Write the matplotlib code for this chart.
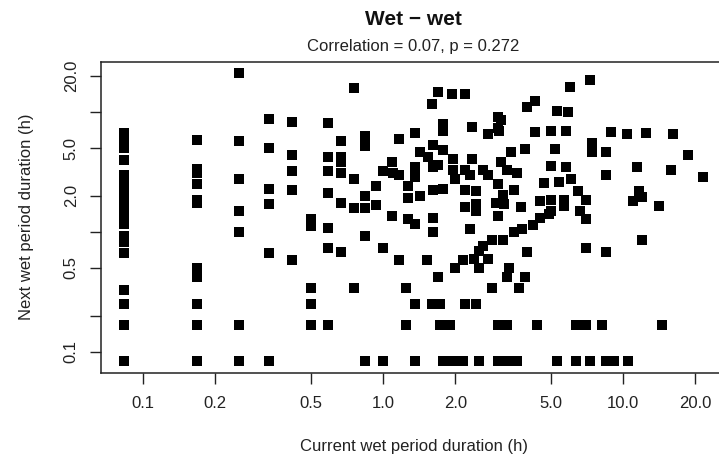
# wet period duration vs next wet period duration, log-log scatter

import matplotlib.pyplot as plt
from matplotlib.ticker import NullLocator

plt.rcParams['font.family'] = ['Liberation Sans', 'DejaVu Sans']

# current wet period duration (h), paired with next wet period duration (h)
cur_dur = [
    0.083, 0.083, 0.083, 0.083, 0.083, 0.083, 0.083, 0.083, 0.083, 0.083, 0.083,
    0.083, 0.083, 0.083, 0.083, 0.083, 0.083, 0.083, 0.083, 0.083, 0.083, 0.083,
    0.167, 0.167, 0.167, 0.167, 0.167, 0.167, 0.167, 0.167, 0.167, 0.167, 0.167,
    0.25, 0.25, 0.25, 0.25, 0.25, 0.25, 0.25,
    0.333, 0.333, 0.333, 0.333, 0.333, 0.333,
    0.417, 0.417, 0.417, 0.417, 0.417,
    0.5, 0.5, 0.5, 0.5, 0.5,
    0.59, 0.59, 0.59, 0.59, 0.59, 0.59, 0.59,
    0.67, 0.67, 0.67, 0.67, 0.67, 0.67,
    0.76, 0.76, 0.76, 0.76,
    0.84, 0.84, 0.84, 0.84, 0.84, 0.84,
    0.93, 0.93,
    1.0, 1.0, 1.0,
    1.09, 1.09, 1.1,
    1.17, 1.17, 1.17,
    1.25, 1.25,
    1.27, 1.27, 1.27,
    1.36, 1.36, 1.36, 1.36, 1.36, 1.36,
    1.42, 1.42, 1.54, 1.53,
    1.6, 1.6,
    1.62, 1.62, 1.62, 1.62, 1.62,
    1.7, 1.7, 1.7, 1.72, 1.73,
    1.77, 1.77,
    1.78, 1.78, 1.78,
    1.9, 1.94,
    1.95, 1.95, 1.95,
    2.0, 2.0,
    2.15, 2.15,
    2.2, 2.2, 2.2, 2.2, 2.2,
    2.3, 2.3, 2.35, 2.35, 2.4,
    2.45, 2.45, 2.45, 2.45,
    2.5, 2.5, 2.5,
    2.6, 2.6,
    2.75, 2.75, 2.75,
    2.85, 2.85, 2.95,
    3.0, 3.0, 3.0, 3.0, 3.0, 3.0,
    3.05, 3.1, 3.1, 3.15, 3.15, 3.2,
    3.3, 3.3, 3.3, 3.3,
    3.35, 3.4, 3.5, 3.5, 3.6, 3.6, 3.7, 3.75, 3.8, 3.9, 3.9,
    4.0, 4.0, 4.2, 4.3, 4.3, 4.4, 4.5, 4.5, 4.7, 4.9,
    5.0, 5.0, 5.0, 5.0,
    5.2, 5.3, 5.3, 5.4, 5.7, 5.7, 5.8, 5.8, 5.9, 6.0, 6.1,
    6.4, 6.4, 6.5, 6.6,
    7.0, 7.0, 7.0, 7.0,
    7.3, 7.3, 7.4, 7.4,
    8.2, 8.5, 8.5, 8.5, 8.5, 8.9, 9.2,
    10.4, 10.5, 11.0, 11.5, 11.7, 12.0, 12.0, 12.5,
    14.1, 14.6, 15.8, 16.1, 18.7, 21.5,
]
next_dur = [
    6.67, 6.0, 5.5, 5.0, 4.0, 3.0, 2.75, 2.5, 2.25, 2.0, 1.83,
    1.67, 1.5, 1.33, 1.17, 0.92, 0.83, 0.67, 0.33, 0.25, 0.167, 0.083,
    5.83, 3.33, 3.08, 2.5, 1.83, 1.75, 0.5, 0.42, 0.25, 0.167, 0.083,
    21.0, 5.75, 2.75, 1.5, 1.0, 0.167, 0.083,
    8.8, 5.0, 2.3, 1.7, 0.67, 0.083,
    8.3, 4.4, 3.2, 2.25, 0.58,
    1.28, 1.12, 0.34, 0.25, 0.167,
    8.1, 4.25, 3.2, 2.1, 1.08, 0.74, 0.167,
    5.7, 4.2, 3.8, 3.1, 1.75, 0.68,
    16.0, 2.75, 1.58, 0.34,
    6.3, 5.2, 2.0, 1.58, 0.93, 0.083,
    2.4, 1.69,
    3.2, 0.74, 0.083,
    3.8, 1.35, 3.1,
    6.0, 3.0, 0.58,
    0.34, 0.167,
    2.4, 1.93, 1.28,
    6.7, 3.45, 2.85, 1.17, 0.25, 0.083,
    4.6, 2.0, 4.25, 0.58,
    11.7, 0.25,
    5.3, 3.5, 2.25, 1.3, 1.0,
    14.7, 3.6, 0.42, 0.25, 0.167,
    8.0, 0.083,
    6.9, 4.8, 2.3,
    0.167, 14.2,
    4.05, 3.3, 0.083,
    2.75, 0.5,
    0.58, 0.083,
    14.2, 3.3, 2.25, 1.6, 0.25,
    3.0, 1.05, 7.5, 4.05, 0.59,
    2.2, 1.7, 1.5, 0.25,
    0.5, 0.69, 0.083,
    0.76, 3.3,
    3.0, 6.6, 0.59,
    0.86, 0.34, 1.75,
    9.1, 7.4, 2.5, 1.35, 0.167, 0.083,
    6.9, 8.5, 3.8, 2.05, 0.86, 1.7,
    3.3, 0.42, 0.167, 0.083,
    0.5, 4.65, 2.25, 1.0, 3.1, 0.083, 0.34, 1.6, 1.05, 4.9, 0.42,
    11.0, 0.68, 1.15, 12.4, 6.8, 0.167, 1.8, 1.3, 2.55, 1.4,
    7.0, 3.55, 1.85, 1.5,
    4.9, 10.2, 0.083, 2.6, 1.85, 1.65, 6.9, 3.45, 10.1, 16.1, 2.75,
    0.167, 0.083, 2.2, 1.5,
    1.85, 1.28, 0.74, 0.167,
    18.6, 0.083, 5.5, 4.65,
    0.167, 4.6, 3.0, 0.68, 0.083, 6.8, 0.083,
    6.5, 0.083, 1.8, 3.5, 2.2, 1.95, 0.85, 6.7,
    1.65, 0.167, 3.3, 6.5, 4.4, 2.85,
]

ticks = [0.1, 0.2, 0.5, 1.0, 2.0, 5.0, 10.0, 20.0]
xlabels = ['0.1', '0.2', '0.5', '1.0', '2.0', '5.0', '10.0', '20.0']
ylabels = ['0.1', '', '0.5', '', '2.0', '5.0', '', '20.0']

fig = plt.figure(figsize=(7.19, 4.57), dpi=100)
ax = fig.add_axes([0.1405, 0.1845, 0.869, 0.68])

ax.scatter(cur_dur, next_dur, marker='s', s=56, c='black', linewidths=0)

ax.set_xscale('log')
ax.set_yscale('log')
ax.set_xlim(10 ** -1.176, 10 ** 1.429)
ax.set_ylim(10 ** -1.175, 10 ** 1.418)

ax.set_xticks(ticks)
ax.set_xticklabels(xlabels)
ax.set_yticks(ticks)
ax.set_yticklabels(ylabels, rotation=90, va='center')
ax.xaxis.set_minor_locator(NullLocator())
ax.yaxis.set_minor_locator(NullLocator())
ax.tick_params(axis='x', direction='out', length=8, width=1, labelsize=12, pad=9, colors='#222222')
ax.tick_params(axis='y', direction='out', length=8, width=1, labelsize=12, pad=8, colors='#222222')
for sp in ax.spines.values():
    sp.set_linewidth(1.1)
    sp.set_color('#222222')

fig.text(413.5 / 719, 1 - 447 / 457, 'Current wet period duration (h)',
         ha='center', va='center', fontsize=12, color='#222222')
fig.text(27 / 719, 1 - 217 / 457, 'Next wet period duration (h)',
         ha='center', va='center', rotation=90, fontsize=12, color='#222222')
fig.text(413.5 / 719, 1 - 19.5 / 457, 'Wet \u2212 wet',
         ha='center', va='center', fontsize=15, fontweight='bold', color='#111111')
fig.text(413.5 / 719, 1 - 46 / 457, 'Correlation = 0.07, p = 0.272',
         ha='center', va='center', fontsize=12, color='#222222')

fig.savefig('out.png', dpi=100)
